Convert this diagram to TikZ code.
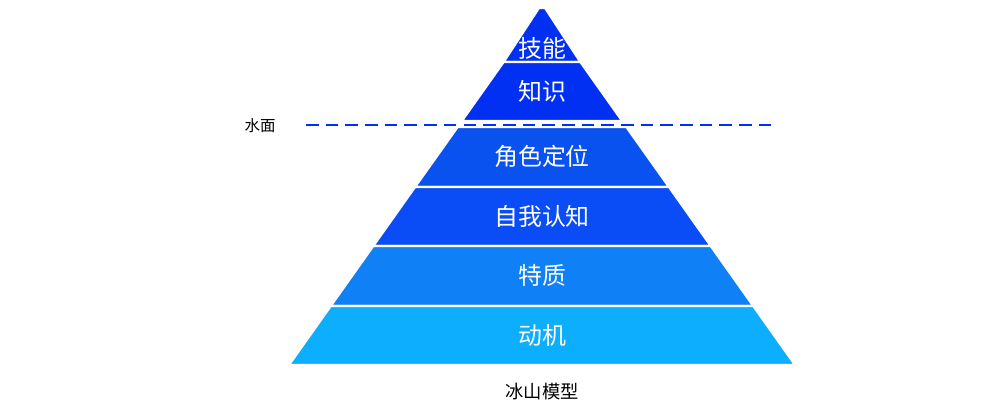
\documentclass[tikz,border=0pt]{standalone}
\usepackage{fontspec}
\newfontfamily\cjk{Noto Sans CJK SC}
\definecolor{cA}{HTML}{0230F2}
\definecolor{cB}{HTML}{0A52F0}
\definecolor{cC}{HTML}{0A4DF7}
\definecolor{cD}{HTML}{0F80F6}
\definecolor{cE}{HTML}{0DAEFE}
\begin{document}
\begin{tikzpicture}[x=0.025cm,y=-0.025cm,
  lay/.style={draw=white,line width=1.5pt},
  lbl/.style={text=white,font=\cjk\fontsize{17}{17}\selectfont,inner sep=0},
  captxt/.style={text=black,font=\cjk\fontsize{13}{13}\selectfont,inner sep=0}]
\useasboundingbox (0,0) rectangle (1004,411);
\fill[lay,fill=cA] (539,8) -- (545,8) -- (580.3,62) -- (503.7,62) -- cycle;
\fill[lay,fill=cA] (503.7,62) -- (580.3,62) -- (622.1,121) -- (461.9,121) -- cycle;
\fill[lay,fill=cB] (457.7,127) -- (626.3,127) -- (668.9,187) -- (415.1,187) -- cycle;
\fill[lay,fill=cC] (415.1,187) -- (668.9,187) -- (710.7,246) -- (373.3,246) -- cycle;
\fill[lay,fill=cD] (373.3,246) -- (710.7,246) -- (753.2,306) -- (330.8,306) -- cycle;
\fill[lay,fill=cE] (330.8,306) -- (753.2,306) -- (795,365) -- (289,365) -- cycle;
\draw[white,line width=1.5pt] (503.7,62) -- (580.3,62) (415.1,187) -- (668.9,187) (373.3,246) -- (710.7,246) (330.8,306) -- (753.2,306);
\node[lbl] (n1) at (542,48) {技能};
\node[lbl] (n2) at (542,91) {知识};
\node[lbl] (n3) at (542,156) {角色定位};
\node[lbl] (n4) at (542,216) {自我认知};
\node[lbl] (n5) at (542,275) {特质};
\node[lbl] (n6) at (542,335) {动机};
\coordinate (wl) at (306,125);
\coordinate (wr) at (778,125);
\draw[cA,line width=1.2pt,dash pattern=on 9pt off 5pt] (wl) -- (wr);
\node[captxt,font=\cjk\fontsize{11}{11}\selectfont] (w) at (260,126) {水面};
\node[captxt] (t) at (542,392) {冰山模型};
\end{tikzpicture}
\end{document}
